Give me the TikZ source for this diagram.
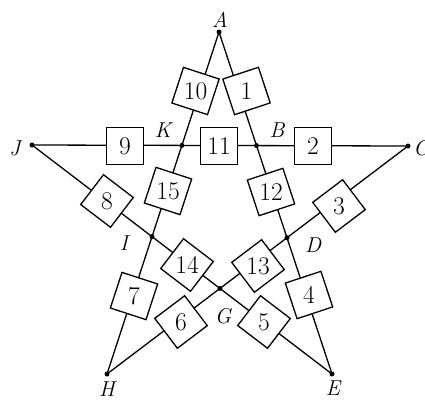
\documentclass[tikz,border=0pt]{standalone}
\begin{document}
\begin{tikzpicture}[x=1pt,y=-1pt,
  edge/.style={line width=1.3pt},
  box/.style={draw, fill=white, line width=1.3pt, minimum size=37.5pt, inner sep=0pt,
    font=\fontsize{25.5}{30}\selectfont},
  lab/.style={inner sep=0pt, font=\fontsize{21.5}{25}\selectfont\itshape},
  dot/.style={circle, fill=black, inner sep=0pt, minimum size=5pt}]
\useasboundingbox (0,0) rectangle (425,399);
% outer points
\coordinate (A) at (219,32);
\coordinate (J) at (32,145);
\coordinate (C) at (408,146);
\coordinate (H) at (107,374);
\coordinate (E) at (332,374);
% inner points
\coordinate (K) at (intersection of A--H and J--C);
\coordinate (B) at (intersection of A--E and J--C);
\coordinate (I) at (intersection of A--H and J--E);
\coordinate (D) at (intersection of A--E and C--H);
\coordinate (G) at (intersection of J--E and C--H);
% lines
\draw[edge] (A) -- (K) -- (I) -- (H);
\draw[edge] (A) -- (B) -- (D) -- (E);
\draw[edge] (J) -- (K) -- (B) -- (C);
\draw[edge] (J) -- (I) -- (G) -- (E);
\draw[edge] (C) -- (D) -- (G) -- (H);
% boxes
\node[box, rotate=-18.1] (b10) at (195.5,91) {\rotatebox{18.1}{10}};
\node[box, rotate=18.3]  (b1)  at (246.5,91) {\rotatebox{-18.3}{1}};
\node[box]               (b9)  at (125,146) {9};
\node[box]               (b11) at (219,146) {11};
\node[box]               (b2)  at (313,146) {2};
\node[box, rotate=-18.1] (b15) at (168,191) {\rotatebox{18.1}{15}};
\node[box, rotate=18.3]  (b12) at (271,192) {\rotatebox{-18.3}{12}};
\node[box, rotate=-37.4] (b8)  at (107,201) {\rotatebox{37.4}{8}};
\node[box, rotate=37.1]  (b3)  at (339,206) {\rotatebox{-37.1}{3}};
\node[box, rotate=-37.4] (b14) at (187,265) {\rotatebox{37.4}{14}};
\node[box, rotate=37.1]  (b13) at (258,266) {\rotatebox{-37.1}{13}};
\node[box, rotate=-18.1] (b7)  at (134,296) {\rotatebox{18.1}{7}};
\node[box, rotate=18.3]  (b4)  at (309,295) {\rotatebox{-18.3}{4}};
\node[box, rotate=37.1]  (b6)  at (181,322) {\rotatebox{-37.1}{6}};
\node[box, rotate=-37.4] (b5)  at (264,322) {\rotatebox{37.4}{5}};
% dots
\foreach \p in {A,J,C,H,E,K,B,I,D,G} \node[dot] (d\p) at (\p) {};
% labels
\node[lab] (lA) at (220,20) {A};
\node[lab] (lJ) at (15,148) {J};
\node[lab] (lC) at (421,148) {C};
\node[lab] (lH) at (107,389) {H};
\node[lab] (lE) at (333,388) {E};
\node[lab] (lK) at (163,130) {K};
\node[lab] (lB) at (277,130) {B};
\node[lab] (lI) at (124,243) {I};
\node[lab] (lD) at (313,245) {D};
\node[lab] (lG) at (223,316) {G};
\end{tikzpicture}
\end{document}
